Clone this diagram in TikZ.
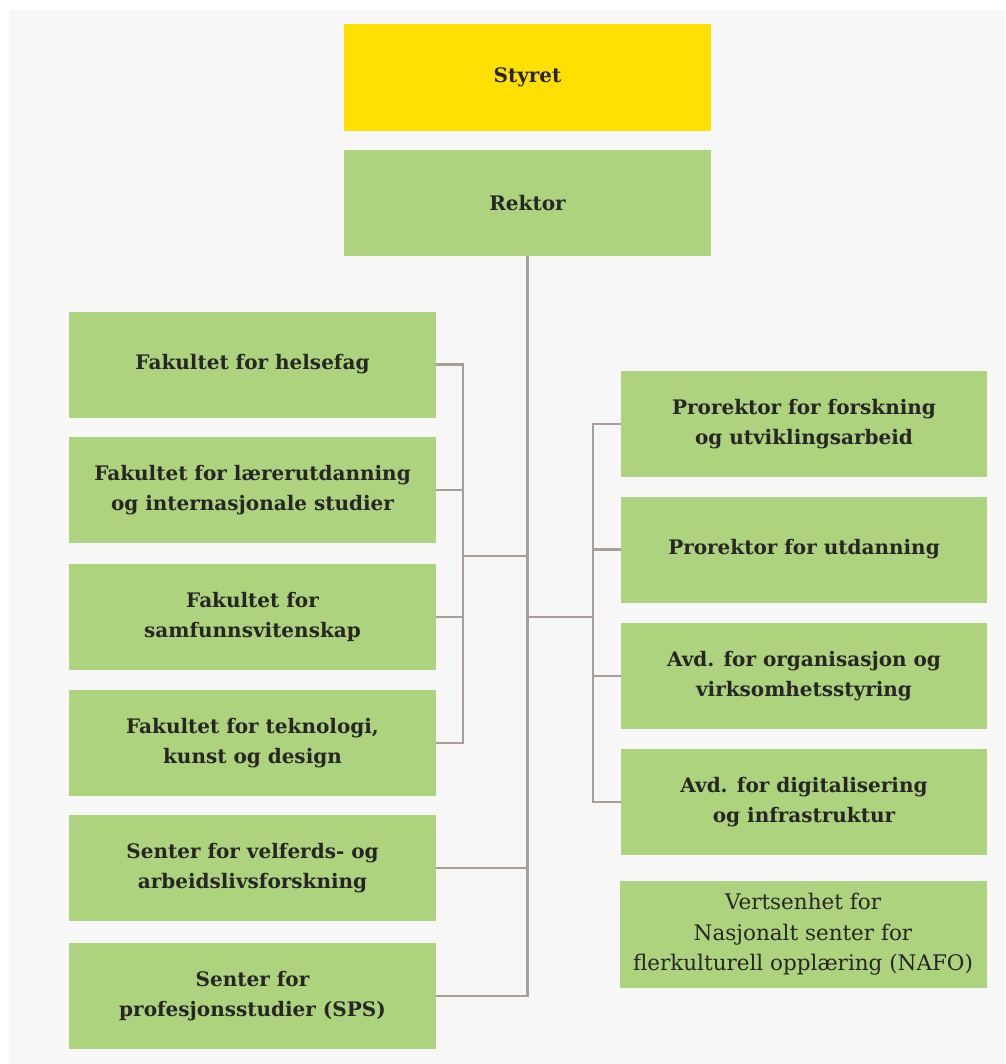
\documentclass[tikz,border=0pt]{standalone}
\usepackage{fontspec}
\setmainfont{DejaVu Serif}
\begin{document}
\begin{tikzpicture}[x=1pt,y=-1pt,
  box/.style={rectangle,fill=boxgreen,inner sep=0pt,minimum width=367pt,minimum height=106pt,
    align=center,text=textdark,font=\fontsize{20}{30.5}\selectfont\bfseries},
  plainbox/.style={box,font=\fontsize{21.5}{30.5}\selectfont},
  conn/.style={draw=linegray,line width=2.8pt}]
\definecolor{boxgreen}{RGB}{174,211,126}
\definecolor{styretyellow}{RGB}{255,224,0}
\definecolor{textdark}{RGB}{40,38,36}
\definecolor{linegray}{RGB}{168,159,153}
\definecolor{bggray}{RGB}{247,247,247}
\useasboundingbox (0,0) rectangle (1005,1064);
\fill[white] (0,0) rectangle (1005,1064);
\fill[bggray] (9,10) rectangle (1005,1064);
% top
\node[box,fill=styretyellow,minimum height=107pt] (styret) at (527.5,77.5) {Styret};
\node[box] (rektor) at (527.5,203) {Rektor};
% left column
\node[box] (helse) at (252.5,364.5) {Fakultet for helsefag};
\node[box] (laerer) at (252.5,490) {Fakultet for lærerutdanning\\og internasjonale studier};
\node[box] (samf) at (252.5,617) {Fakultet for\\samfunnsvitenskap};
\node[box] (tek) at (252.5,743) {Fakultet for teknologi,\\kunst og design};
\node[box] (velf) at (252.5,868) {Senter for velferds- og\\arbeidslivsforskning};
\node[box] (sps) at (252.5,996) {Senter for\\profesjonsstudier (SPS)};
% right column
\node[box,minimum width=366pt] (forsk) at (804,424) {Prorektor for forskning\\og utviklingsarbeid};
\node[box,minimum width=366pt] (utd) at (804,549.5) {Prorektor for utdanning};
\node[box,minimum width=366pt] (org) at (804,676) {Avd. for organisasjon og\\virksomhetsstyring};
\node[box,minimum width=366pt] (dig) at (804,802) {Avd. for digitalisering\\og infrastruktur};
\node[plainbox,minimum height=107pt] (nafo) at (803,934.5) {Vertsenhet for\\Nasjonalt senter for\\flerkulturell opplæring (NAFO)};
% junctions
\coordinate (lb) at (463,556);
\coordinate (rb) at (593,617);
% connectors
\draw[conn] (rektor.south) |- (sps.east);
\draw[conn] (velf.east) -- (velf.east -| rektor.south);
\draw[conn] (helse.east) -| (lb) |- (tek.east);
\draw[conn] (laerer.east) -- (laerer.east -| lb);
\draw[conn] (samf.east) -- (samf.east -| lb);
\draw[conn] (lb) -- (lb -| rektor.south);
\draw[conn] (forsk.west) -| (rb) |- (dig.west);
\draw[conn] (utd.west) -- (utd.west -| rb);
\draw[conn] (org.west) -- (org.west -| rb);
\draw[conn] (rb) -- (rb -| rektor.south);
\end{tikzpicture}
\end{document}
